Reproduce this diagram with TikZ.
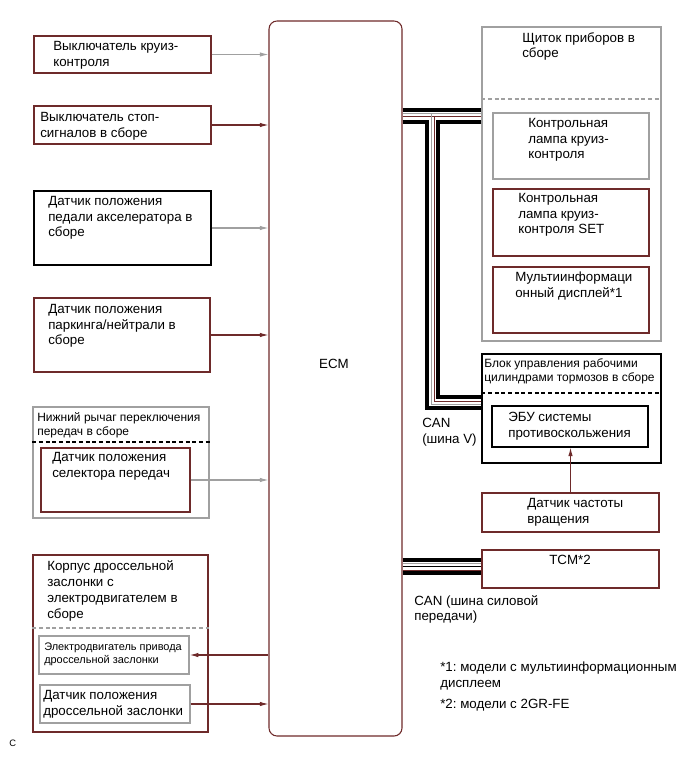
\documentclass[tikz,border=0pt]{standalone}
\usepackage{fontspec}
\setmainfont{Liberation Sans}
\usetikzlibrary{arrows.meta, positioning, fit, calc}
\definecolor{maroon}{HTML}{6E2A2A}
\definecolor{wiregray}{HTML}{A0A0A0}
\frenchspacing

\tikzset{
  box/.style={draw=maroon, line width=0.8pt, inner sep=0pt},
  graybox/.style={draw=wiregray, line width=1.1pt, inner sep=0pt},
  blackbox/.style={draw=black, line width=0.8pt, inner sep=0pt},
  txt/.style={anchor=north west, inner sep=0pt, align=left, font=\fontsize{10}{11.7}\selectfont},
  smalltxt/.style={txt, font=\fontsize{9}{10.6}\selectfont},
  sig/.style={-{Latex[length=6.5pt,width=3.4pt]}, line width=0.8pt},
  bus/.style={line width=2.5pt},
  sep/.style={dash pattern=on 3pt off 2pt, line width=0.8pt},
}

\begin{document}
\begin{tikzpicture}[x=0.75pt, y=-0.75pt]
\useasboundingbox (0,0) rectangle (690,759);

% ECM
\node[box, rounded corners=6pt, fit={(269,21) (402,736)}] (ecm) {};
\node[txt, anchor=center] (ecmtxt) at (334,364) {ECM};

% inputs on the left
\node[box, fit={(34,36) (211,73)}] (cruise) {};
\node[txt] (cruisetxt) at (53,41) {Выключатель круиз-\\контроля};
\draw[sig, wiregray] (cruise.east) -- (cruise.east -| ecm.west);

\node[box, fit={(34,106) (211,144)}] (stop) {};
\node[txt] (stoptxt) at (40,112) {Выключатель стоп-\\сигналов в сборе};
\draw[sig, maroon] (stop.east) -- (stop.east -| ecm.west);

\node[blackbox, fit={(34,191) (211,265)}] (pedal) {};
\node[txt] (pedaltxt) at (48,196) {Датчик положения\\педали акселератора в\\сборе};
\draw[sig, wiregray] (pedal.east) -- (pedal.east -| ecm.west);

\node[box, fit={(34,298) (210,372)}] (pnsw) {};
\node[txt] (pnswtxt) at (48,304) {Датчик положения\\паркинга/нейтрали в\\сборе};
\draw[sig, maroon] (pnsw.east) -- (pnsw.east -| ecm.west);

% shift lever
\node[graybox, fit={(33,407) (209,518)}] (lever) {};
\node[smalltxt] (levertxt) at (37,412) {Нижний рычаг переключения\\передач в сборе};
\draw[sep] (lever.west |- 0,442) -- (lever.east |- 0,442);
\node[box, fit={(41,448) (190,512)}] (selector) {};
\node[txt] (selectortxt) at (52,452) {Датчик положения\\селектора передач};
\draw[sig, wiregray] (selector.east) -- (selector.east -| ecm.west);

% throttle body
\node[box, fit={(33,555) (208,732)}] (throttle) {};
\node[txt, font=\fontsize{10}{12}\selectfont] (throttletxt) at (47,560) {Корпус дроссельной\\заслонки с\\электродвигателем в\\сборе};
\draw[sep, wiregray] (throttle.west |- 0,628) -- (throttle.east |- 0,628);
\node[graybox, fit={(39,636) (189,674)}] (motor) {};
\node[txt, font=\fontsize{8.2}{9.6}\selectfont] (motortxt) at (44,643) {Электродвигатель привода\\дроссельной заслонки};
\draw[sig, maroon] (motor.east -| ecm.west) -- (motor.east);
\node[graybox, fit={(40,685) (190,723)}] (tps) {};
\node[txt] (tpstxt) at (43,690) {Датчик положения\\дроссельной заслонки};
\draw[sig, maroon] (tps.east) -- (tps.east -| ecm.west);

% combination meter
\node[graybox, fit={(482,27) (661,341)}] (meter) {};
\node[txt] (metertxt) at (522,32) {Щиток приборов в\\сборе};
\draw[sep, wiregray] (meter.west |- 0,99) -- (meter.east |- 0,99);
\node[graybox, fit={(493,113) (649,179)}] (lamp) {};
\node[txt] (lamptxt) at (528,118) {Контрольная\\лампа круиз-\\контроля};
\node[box, fit={(493,189) (649,256)}] (setlamp) {};
\node[txt] (setlamptxt) at (518,193) {Контрольная\\лампа круиз-\\контроля SET};
\node[box, fit={(493,267) (649,333)}] (mid) {};
\node[txt] (midtxt) at (515,272) {Мультиинформаци\\онный дисплей*1};

% brake actuator
\node[blackbox, fit={(482,354) (661,463)}] (actuator) {};
\node[smalltxt] (actuatortxt) at (484,358) {Блок управления рабочими\\цилиндрами тормозов в сборе};
\draw[sep] (actuator.west |- 0,393) -- (actuator.east |- 0,393);
\node[blackbox, fit={(492,406) (648,447)}] (skid) {};
\node[txt] (skidtxt) at (508,412) {ЭБУ системы\\противоскольжения};

\node[box, fit={(482,493) (659,532)}] (speed) {};
\node[txt] (speedtxt) at (527,498) {Датчик частоты\\вращения};
\draw[sig, maroon] (speed.north) -- (speed.north |- skid.south);

\node[box, fit={(482,550) (659,588)}] (tcm) {};
\node[txt, anchor=north] (tcmtxt) at (570,555) {TCM*2};

% CAN V bus
\draw[bus] (ecm.east |- 0,110) -- (meter.west |- 0,110);
\draw[wiregray] (ecm.east |- 0,113.5) -- (meter.west |- 0,113.5);
\draw[maroon] (ecm.east |- 0,116.5) -- (meter.west |- 0,116.5);
\draw[bus] (ecm.east |- 0,122) -- (427,122) -- (427,408) -- (actuator.west |- 0,408);
\draw[bus] (meter.west |- 0,122) -- (438,122) -- (438,397) -- (actuator.west |- 0,397);
\draw[wiregray] (431,113.5) -- (431,404.5) -- (actuator.west |- 0,404.5);
\draw[maroon] (434,116.5) -- (434,401) -- (actuator.west |- 0,401);
\node[txt] (canv) at (422,418) {CAN\\(шина V)};

% CAN powertrain bus
\draw[bus] (ecm.east |- 0,560) -- (tcm.west |- 0,560);
\draw[wiregray] (ecm.east |- 0,563) -- (tcm.west |- 0,563);
\draw (ecm.east |- 0,566.5) -- (tcm.west |- 0,566.5);
\draw[maroon] (ecm.east |- 0,570) -- (tcm.west |- 0,570);
\draw[bus] (ecm.east |- 0,573) -- (tcm.west |- 0,573);
\node[txt] (canpt) at (414,595) {CAN (шина силовой\\передачи)};

% notes
\node[txt] (note1) at (440,662) {*1: модели с мультиинформационным\\дисплеем};
\node[txt] (note2) at (440,699) {*2: модели с 2GR-FE};
\node[txt, font=\fontsize{7}{8}\selectfont] (figid) at (9,740) {C};
\end{tikzpicture}
\end{document}
